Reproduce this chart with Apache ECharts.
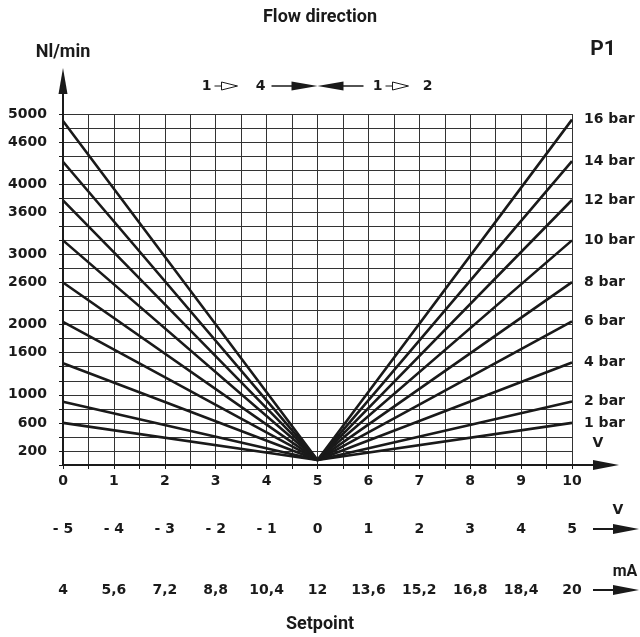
<!DOCTYPE html>
<html><head><meta charset="utf-8">
<script src="https://cdn.jsdelivr.net/npm/echarts@6/dist/echarts.min.js"></script>
<style>html,body{margin:0;padding:0;background:#fff}#c{width:640px;height:637px}</style>
</head><body><div id="c"></div>
<script>
// ---- data ----
const seriesNames   = ['1 bar','2 bar','4 bar','6 bar','8 bar','10 bar','12 bar','14 bar','16 bar'];
const flowAtSetpoint0  = [600, 900, 1450, 2040, 2600, 3200, 3770, 4320, 4900];   // Nl/min at 0 V
const flowAtSetpoint5  = [70, 70, 70, 70, 70, 70, 70, 70, 70];                   // Nl/min at 5 V
const flowAtSetpoint10 = [600, 905, 1460, 2045, 2605, 3200, 3775, 4330, 4920];   // Nl/min at 10 V
const setpointV = [0, 5, 10];
const yTickLabels = [5000, 4600, 4000, 3600, 3000, 2600, 2000, 1600, 1000, 600, 200];
const xTickLabelsV   = ['0','1','2','3','4','5','6','7','8','9','10'];
const xTickLabelsV2  = ['- 5','- 4','- 3','- 2','- 1','0','1','2','3','4','5'];
const xTickLabelsmA  = ['4','5,6','7,2','8,8','10,4','12','13,6','15,2','16,8','18,4','20'];

const NUM_FONT = 'DejaVu Sans, Liberation Sans, sans-serif';
const TXT_FONT = 'Roboto, Liberation Sans, sans-serif';
const INK = '#1a1a1a';
const NUM_SIZE = 14;

const chart = echarts.init(document.getElementById('c'), null, {renderer: 'canvas'});

const series = seriesNames.map((name, i) => ({
  name: name,
  type: 'line',
  symbol: 'none',
  silent: true,
  data: [
    [setpointV[0], flowAtSetpoint0[i]],
    [setpointV[1], flowAtSetpoint5[i]],
    [setpointV[2], flowAtSetpoint10[i]]
  ],
  lineStyle: {color: INK, width: 2.6},
  endLabel: {show: true, formatter: '{a}', distance: 12, color: INK,
             fontFamily: NUM_FONT, fontWeight: 'bold', fontSize: NUM_SIZE}
}));

function labelAxis(labels, offset) {
  return {
    type: 'value', position: 'bottom', min: 0, max: 10, interval: 1, offset: offset,
    axisLine: {show: false}, axisTick: {show: false}, splitLine: {show: false},
    axisLabel: {show: true, margin: 0, verticalAlign: 'middle', color: INK,
      fontFamily: NUM_FONT, fontWeight: 'bold', fontSize: NUM_SIZE,
      formatter: v => labels[Math.round(v)]}
  };
}

const option = {
  animation: false,
  backgroundColor: '#fff',
  grid: {left: 63, right: 68, top: 114, bottom: 172, containLabel: false},
  xAxis: [
    {
      type: 'value', min: 0, max: 10, interval: 0.5,
      axisLine: {show: true, lineStyle: {color: INK, width: 2}},
      axisTick: {show: true, length: 4, lineStyle: {color: INK, width: 1}},
      splitLine: {show: true, lineStyle: {color: '#333', width: 1}},
      axisLabel: {margin: 16, verticalAlign: 'middle', color: INK, fontFamily: NUM_FONT, fontWeight: 'bold', fontSize: NUM_SIZE,
        formatter: v => (Math.abs(v - Math.round(v)) < 1e-6 ? xTickLabelsV[Math.round(v)] : '')}
    },
    labelAxis(xTickLabelsV2, 64),
    labelAxis(xTickLabelsmA, 125)
  ],
  yAxis: {
    type: 'value', min: 0, max: 5000, interval: 200,
    axisLine: {show: true, lineStyle: {color: INK, width: 2}},
    axisTick: {show: true, length: 4, lineStyle: {color: INK, width: 1}},
    splitLine: {show: true, lineStyle: {color: '#333', width: 1}},
    axisLabel: {margin: 16, color: INK, fontFamily: NUM_FONT, fontWeight: 'bold', fontSize: NUM_SIZE,
      formatter: v => (yTickLabels.indexOf(v) >= 0 ? String(v) : '')}
  },
  series: series
};
chart.setOption(option);

// ---- decorations (arrows, titles) positioned from the axes ----
const o  = chart.convertToPixel({xAxisIndex: 0, yAxisIndex: 0}, [0, 0]);
const tr = chart.convertToPixel({xAxisIndex: 0, yAxisIndex: 0}, [10, 5000]);
const mid = chart.convertToPixel({xAxisIndex: 0, yAxisIndex: 0}, [5, 0]);
const x0 = o[0], yb = o[1], x1 = tr[0], yt = tr[1], xm = mid[0];

function arrowRight(xs, xe, y, len, half) {
  return [
    {type: 'line', shape: {x1: xs, y1: y, x2: xe - len + 1, y2: y}, style: {stroke: INK, lineWidth: 2}},
    {type: 'polygon', shape: {points: [[xe - len, y - half], [xe, y], [xe - len, y + half]]}, style: {fill: INK}}
  ];
}
function txt(x, y, text, size, align, font) {
  return {type: 'text', x: x, y: y, style: {text: text, fill: INK, font: 'bold ' + size + 'px ' + (font || TXT_FONT),
          textAlign: align || 'center', textVerticalAlign: 'middle'}};
}
function hollowArrow(x, y) {
  return [
    {type: 'line', shape: {x1: x, y1: y, x2: x + 7, y2: y}, style: {stroke: INK, lineWidth: 1}},
    {type: 'polygon', shape: {points: [[x + 7, y - 4], [x + 23, y], [x + 7, y + 4]]}, style: {fill: '#fff', stroke: INK, lineWidth: 1}}
  ];
}

const fy = 86;
const g = [].concat(
  // y axis arrow
  [{type: 'line', shape: {x1: x0, y1: yt, x2: x0, y2: 90}, style: {stroke: INK, lineWidth: 2}},
   {type: 'polygon', shape: {points: [[x0 - 4.5, 94], [x0, 68], [x0 + 4.5, 94]]}, style: {fill: INK}}],
  // x axis arrows
  arrowRight(x1, 619, yb, 26, 5),
  arrowRight(x1 + 21, 639, yb + 64, 26, 5),
  arrowRight(x1 + 21, 639, yb + 125, 26, 5),
  // flow direction marker
  [txt(xm - 111, fy, '1', NUM_SIZE, 'center', NUM_FONT)],
  hollowArrow(xm - 103, fy),
  [txt(xm - 57, fy, '4', NUM_SIZE, 'center', NUM_FONT)],
  [{type: 'line', shape: {x1: xm - 46, y1: fy, x2: xm - 25, y2: fy}, style: {stroke: INK, lineWidth: 1.5}},
   {type: 'polygon', shape: {points: [[xm - 26, fy - 4.5], [xm, fy], [xm - 26, fy + 4.5]]}, style: {fill: INK}},
   {type: 'polygon', shape: {points: [[xm + 26, fy - 4.5], [xm, fy], [xm + 26, fy + 4.5]]}, style: {fill: INK}},
   {type: 'line', shape: {x1: xm + 25, y1: fy, x2: xm + 46, y2: fy}, style: {stroke: INK, lineWidth: 1.5}}],
  [txt(xm + 60, fy, '1', NUM_SIZE, 'center', NUM_FONT)],
  hollowArrow(xm + 68, fy),
  [txt(xm + 110, fy, '2', NUM_SIZE, 'center', NUM_FONT)],
  // titles and unit labels
  [txt(320, 17, 'Flow direction', 18),
   txt(x0, 52, 'Nl/min', 18),
   txt(603, 50, 'P1', 21),
   txt(598, 443, 'V', NUM_SIZE, 'center', NUM_FONT),
   txt(618, 510, 'V', NUM_SIZE, 'center', NUM_FONT),
   txt(625, 572, 'mA', 16),
   txt(320, 624, 'Setpoint', 18)]
);
chart.setOption({graphic: {elements: g}});
</script></body></html>
